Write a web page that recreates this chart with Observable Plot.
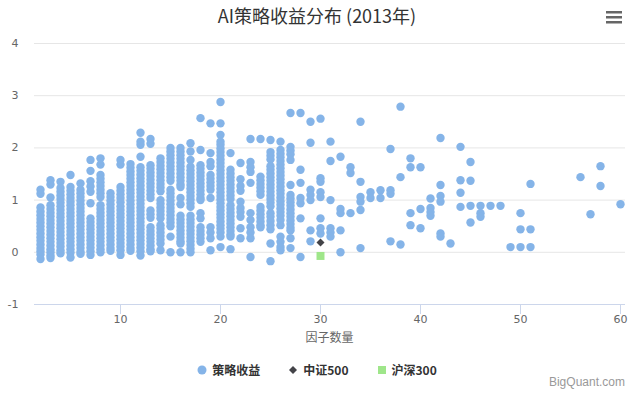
<!DOCTYPE html>
<html><head><meta charset="utf-8">
<script src="https://cdn.jsdelivr.net/npm/d3@7"></script>
<script src="https://cdn.jsdelivr.net/npm/@observablehq/plot@0.6"></script>
<style>
body{margin:0;background:#fff;font-family:"Noto Sans CJK SC","Noto Sans",sans-serif;}
#wrap{position:relative;width:634px;height:394px;overflow:hidden;background:#fff}
#chart{position:absolute;left:0;top:0}
#title{position:absolute;left:0;width:634px;top:3px;text-align:center;font-size:18px;color:#333;line-height:24px}
#menu{position:absolute;left:605px;top:9px}
#xtitle{position:absolute;left:34px;width:591px;top:328px;text-align:center;font-size:12px;color:#666;line-height:18px}
#legend{position:absolute;left:0;width:634px;top:361px;display:flex;justify-content:center;align-items:center;font-size:12px;font-weight:bold;color:#333;line-height:18px}
#legend .item{display:flex;align-items:center;margin:0 14px}
#legend svg{margin-right:5px}
#credit{position:absolute;right:9px;top:375px;font-size:12px;color:#999;font-family:"Liberation Sans",Arial,sans-serif}
</style></head><body>
<div id="wrap">
  <div id="chart"></div>
  <div id="title">AI策略收益分布 (2013年)</div>
  <svg id="menu" width="18" height="16"><rect x="1" y="2" width="16" height="2.5" fill="#666"/><rect x="1" y="7" width="16" height="2.5" fill="#666"/><rect x="1" y="12" width="16" height="2.5" fill="#666"/></svg>
  <div id="xtitle">因子数量</div>
  <div id="legend"></div>
  <div id="credit">BigQuant.com</div>
</div>
<script>
const factorCounts = [2,3,4,5,6,7,8,9,10,11,12,13,14,15,16,17,18,19,20,21,22,23,24,25,26,27,28,29,30,31,32,33,34,35,36,37,38,39,40,41,42,43,44,45,46,47,48,49,50,51,56,57,58,60];
const strategyReturns = [
  [1.2,1.12,0.86,0.78,0.71,0.64,0.57,0.5,0.43,0.36,0.29,0.22,0.15,0.08,0.02,-0.04,-0.13],
  [1.38,1.3,1.05,0.9,0.83,0.76,0.69,0.62,0.55,0.48,0.41,0.34,0.27,0.2,0.13,0.06,0.0,-0.06,-0.11],
  [1.35,1.23,1.16,1.09,1.02,0.95,0.88,0.81,0.74,0.67,0.6,0.53,0.46,0.39,0.32,0.25,0.18,0.11,0.04,-0.02],
  [1.48,1.25,1.18,1.11,1.04,0.97,0.9,0.83,0.76,0.69,0.62,0.55,0.48,0.41,0.34,0.27,0.2,0.13,0.06,-0.01,-0.1],
  [1.32,1.2,1.13,1.06,0.99,0.92,0.85,0.78,0.71,0.64,0.57,0.5,0.43,0.36,0.29,0.22,0.15,0.08,0.01,-0.03],
  [1.77,1.56,1.36,1.26,1.16,0.94,0.65,0.58,0.51,0.44,0.37,0.3,0.23,0.16,0.09,0.02,-0.05],
  [1.8,1.68,1.48,1.41,1.34,1.27,1.2,1.13,1.06,0.9,0.83,0.76,0.69,0.62,0.55,0.48,0.41,0.34,0.27,0.2,0.13,0.06,0.0],
  [1.13,1.06,0.99,0.92,0.85,0.78,0.71,0.64,0.57,0.5,0.43,0.36,0.29,0.22,0.15,0.08,0.03],
  [1.77,1.68,1.25,1.18,1.11,1.04,0.96,0.88,0.81,0.74,0.67,0.6,0.53,0.46,0.39,0.32,0.25,0.18,0.11,0.04,-0.05],
  [1.69,1.62,1.55,1.48,1.41,1.34,1.27,1.2,1.13,1.06,0.99,0.92,0.85,0.78,0.71,0.64,0.57,0.5,0.43,0.36,0.29,0.22,0.15,0.08,0.03],
  [2.29,2.12,2.06,1.83,1.63,1.56,1.49,1.42,1.35,1.28,1.21,1.14,1.07,1.0,0.93,0.86,0.79,0.72,0.65,0.58,0.51,0.44,0.37,0.3,0.23,0.16,0.09,0.02,-0.06],
  [2.17,2.08,1.67,1.6,1.53,1.46,1.39,1.32,1.25,1.18,1.11,1.04,0.8,0.73,0.66,0.48,0.41,0.34,0.27,0.2,0.13,0.06,0.02],
  [1.8,1.73,1.66,1.59,1.52,1.45,1.38,1.31,1.24,1.17,1.0,0.93,0.86,0.79,0.72,0.65,0.52,0.45,0.38,0.31,0.24,0.17,0.04],
  [2.0,1.93,1.86,1.79,1.72,1.65,1.58,1.51,1.44,1.37,1.2,1.13,1.06,0.99,0.92,0.85,0.78,0.71,0.64,0.57,0.5,0.3,0.0],
  [2.0,1.93,1.86,1.79,1.72,1.65,1.58,1.51,1.44,1.37,1.3,1.25,1.04,0.92,0.7,0.63,0.56,0.49,0.42,0.35,0.28,0.21,0.17,0.0],
  [2.09,1.93,1.77,1.64,1.57,1.5,1.43,1.36,1.29,1.22,1.15,1.08,1.01,0.94,0.87,0.7,0.63,0.56,0.49,0.42,0.35,0.28,0.21,0.14,0.07,0.0],
  [2.57,1.96,1.67,1.6,1.53,1.46,1.39,1.32,1.25,1.18,1.11,1.04,1.0,0.75,0.65,0.48,0.41,0.34,0.27,0.2],
  [2.47,1.9,1.73,1.65,1.48,1.41,1.34,1.27,1.2,1.04,0.48,0.38,0.27,0.04],
  [2.88,2.47,2.25,2.12,2.06,1.99,1.92,1.85,1.78,1.71,1.64,1.57,1.5,1.43,1.36,1.29,1.22,1.15,1.08,1.01,0.94,0.87,0.8,0.73,0.66,0.59,0.52,0.45,0.38,0.3,0.1],
  [1.9,1.58,1.51,1.44,1.37,1.3,1.23,1.16,1.09,1.02,0.9,0.83,0.76,0.69,0.62,0.55,0.48,0.41,0.34,0.3,0.06],
  [1.71,1.4,1.27,1.18,0.97,0.85,0.77,0.68,0.46,0.27],
  [2.17,1.73,1.63,1.54,1.33,0.75,0.62,0.48,0.38,0.27,-0.09],
  [2.17,1.45,1.38,1.31,1.24,1.17,1.1,0.87,0.8,0.73,0.66,0.59,0.52,0.48],
  [2.15,1.92,1.85,1.78,1.65,1.58,1.51,1.44,1.37,1.3,1.23,1.16,1.09,1.02,0.95,0.88,0.75,0.68,0.6,0.52,0.44,0.17,-0.17],
  [2.12,1.96,1.89,1.82,1.75,1.68,1.61,1.54,1.47,1.4,1.33,1.26,1.19,1.12,1.05,0.98,0.91,0.84,0.77,0.7,0.62,0.52,0.3,0.2,0.1,0.04],
  [2.67,2.02,1.95,1.88,1.77,1.29,1.1,1.03,0.96,0.89,0.82,0.75,0.68,0.61,0.54,0.47,0.42,0.27,0.08],
  [2.67,1.58,1.33,1.04,0.94,0.65,-0.09],
  [2.5,2.1,1.2,1.1,1.0,0.42,0.21],
  [2.56,1.42,1.35,1.15,1.06,0.65,0.46,0.36],
  [2.12,1.75,1.0,0.46,0.38,0.3],
  [1.83,0.83,0.75,0.42,0.0],
  [1.63,1.52,0.75],
  [2.5,1.35,1.06,0.97,0.81,0.08],
  [1.15,1.04],
  [1.19,1.04],
  [1.98,1.19,1.12,0.21],
  [2.79,1.44,0.15],
  [1.8,1.63,0.75,0.52],
  [1.63,0.83,0.46],
  [1.03,0.85,0.77,0.7],
  [2.19,1.29,1.08,0.97,0.36,0.3],
  [0.17],
  [2.02,1.38,1.14,0.87],
  [1.73,1.37,0.89,0.57],
  [0.89,0.75,0.68],
  [0.89],
  [0.89],
  [0.1],
  [0.75,0.44,0.1],
  [1.31,0.44,0.1],
  [1.44],
  [0.73],
  [1.65,1.27],
  [0.92]
];
const csi500Factor = [30];
const csi500Return = [0.19];
const hs300Factor = [30];
const hs300Return = [-0.07];
const xTicks = [10,20,30,40,50,60];
const yTicks = [-1,0,1,2,3,4];
const seriesNames = ["策略收益","中证500","沪深300"];
const seriesColors = ["#85b4e8","#434348","#9fe68a"];

const strategy = factorCounts.flatMap((f,i)=>strategyReturns[i].map(v=>({x:f,y:v})));
const csi = csi500Factor.map((f,i)=>({x:f,y:csi500Return[i]}));
const hs = hs300Factor.map((f,i)=>({x:f,y:hs300Return[i]}));

const plot = Plot.plot({
  width:634, height:394,
  marginLeft:34, marginRight:9, marginTop:43, marginBottom:90,
  style:{fontFamily:"'DejaVu Sans',sans-serif", fontSize:"11px", color:"#666", background:"transparent"},
  x:{domain:[1.4,60.5], ticks:xTicks, label:null},
  y:{domain:[-1,4], ticks:yTicks, label:null},
  marks:[
    Plot.gridY(yTicks.filter(d=>d>-1), {stroke:"#e6e6e6", strokeOpacity:1}),
    Plot.ruleY([-1], {stroke:"#ccd6eb"}),
    Plot.axisY({ticks:yTicks, tickSize:0, tickPadding:16, tickFormat:d=>String(d), fill:"#666"}),
    Plot.axisX({ticks:xTicks, tickSize:10, tickPadding:1, stroke:"#ccd6eb", strokeOpacity:1, fill:"#666", tickFormat:d=>String(d)}),
    Plot.dot(strategy, {x:"x", y:"y", r:4.2, fill:seriesColors[0], stroke:null}),
    Plot.dot(csi, {x:"x", y:"y", r:3.6, symbol:"diamond2", fill:seriesColors[1]}),
    Plot.dot(hs, {x:"x", y:"y", r:4.5, symbol:"square", fill:seriesColors[2]})
  ]
});
document.getElementById("chart").appendChild(plot);

const sym = [
  '<svg width="10" height="10"><circle cx="5" cy="5" r="4.5" fill="'+seriesColors[0]+'"/></svg>',
  '<svg width="10" height="10"><path d="M5 1 L9 5 L5 9 L1 5 Z" fill="'+seriesColors[1]+'"/></svg>',
  '<svg width="10" height="10"><rect x="1" y="1" width="8" height="8" fill="'+seriesColors[2]+'"/></svg>'
];
document.getElementById("legend").innerHTML = seriesNames.map((n,i)=>'<div class="item">'+sym[i]+'<span>'+n+'</span></div>').join("");
</script>
</body></html>
